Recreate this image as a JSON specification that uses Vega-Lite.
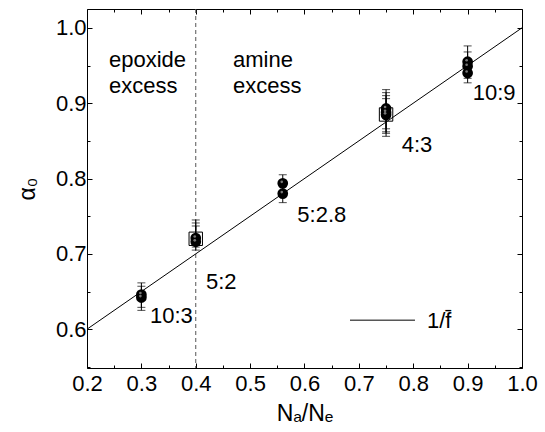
{
  "$schema": "https://vega.github.io/schema/vega-lite/v6.json",
  "width": 435,
  "height": 359,
  "autosize": {"type": "none"},
  "padding": {"left": 87, "top": 9, "right": 23, "bottom": 64},
  "background": "white",
  "config": {
    "view": {"stroke": null},
    "axis": {
      "domainColor": "black", "tickColor": "black", "labelColor": "black", "titleColor": "black",
      "labelFont": "Liberation Sans", "titleFont": "Liberation Sans",
      "labelFontSize": 22, "titleFontSize": 23, "titleFontWeight": "normal",
      "grid": false, "labelOverlap": false, "labelFlush": false
    }
  },
  "datasets": {
    "pts": [
      {"x": 0.3, "y": 0.646, "lo": 0.629, "hi": 0.6615, "kind": "circle"},
      {"x": 0.3, "y": 0.642, "lo": 0.625, "hi": 0.657, "kind": "circle"},
      {"x": 0.4, "y": 0.720, "lo": 0.712, "hi": 0.737, "kind": "square"},
      {"x": 0.4, "y": 0.721, "lo": 0.705, "hi": 0.745, "kind": "circle"},
      {"x": 0.4, "y": 0.716, "lo": 0.709, "hi": 0.741, "kind": "circle"},
      {"x": 0.56, "y": 0.7936, "lo": 0.78, "hi": 0.805, "kind": "circle"},
      {"x": 0.56, "y": 0.780, "lo": 0.768, "hi": 0.795, "kind": "circle"},
      {"x": 0.75, "y": 0.885, "lo": 0.862, "hi": 0.906, "kind": "square"},
      {"x": 0.75, "y": 0.893, "lo": 0.866, "hi": 0.918, "kind": "circle"},
      {"x": 0.75, "y": 0.888, "lo": 0.86, "hi": 0.914, "kind": "circle"},
      {"x": 0.75, "y": 0.8845, "lo": 0.856, "hi": 0.91, "kind": "circle"},
      {"x": 0.9, "y": 0.955, "lo": 0.94, "hi": 0.976, "kind": "circle"},
      {"x": 0.9, "y": 0.949, "lo": 0.933, "hi": 0.968, "kind": "circle"},
      {"x": 0.9, "y": 0.940, "lo": 0.927, "hi": 0.955, "kind": "circle"}
    ],
    "lines": [
      {"x": 0.2, "y": 0.6, "s": "fit"},
      {"x": 1.0, "y": 1.0, "s": "fit"},
      {"x": 0.6837, "y": 0.612, "s": "leg"},
      {"x": 0.8032, "y": 0.612, "s": "leg"}
    ],
    "texts": [
      {"x": 0.2405, "y": 0.948, "t": "epoxide"},
      {"x": 0.2405, "y": 0.9136, "t": "excess"},
      {"x": 0.4685, "y": 0.948, "t": "amine"},
      {"x": 0.4685, "y": 0.9136, "t": "excess"},
      {"x": 0.3159, "y": 0.6084, "t": "10:3"},
      {"x": 0.4189, "y": 0.6528, "t": "5:2"},
      {"x": 0.5868, "y": 0.7426, "t": "5:2.8"},
      {"x": 0.7788, "y": 0.835, "t": "4:3"},
      {"x": 0.9093, "y": 0.9043, "t": "10:9"},
      {"x": 0.8253, "y": 0.6013, "t": "1/f\u0304"}
    ],
    "vline": [{"x": 0.4}]
  },
  "resolve": {"axis": {"x": "independent", "y": "independent"}},
  "layer": [
    {
      "data": {"name": "vline"},
      "mark": {"type": "rule", "color": "#555555", "strokeDash": [4, 3], "strokeWidth": 1},
      "encoding": {
        "x": {"field": "x", "type": "quantitative", "scale": {"domain": [0.2, 1.0], "nice": false, "zero": false},
          "axis": {"orient": "bottom", "values": [0.2,0.25,0.3,0.35,0.4,0.45,0.5,0.55,0.6,0.65,0.7,0.75,0.8,0.85,0.9,0.95,1.0],
            "labelExpr": "abs(datum.value*10-round(datum.value*10))<0.001 ? format(datum.value,'.1f') : ''",
            "tickSize": {"condition": {"test": "abs(datum.value*10-round(datum.value*10))<0.001", "value": -5}, "value": -3},
            "labelPadding": 10, "title": "Nₐ/Nₑ", "titlePadding": 6}}
      }
    },
    {
      "data": {"name": "lines"},
      "mark": {"type": "line", "color": "black", "strokeWidth": 1},
      "encoding": {
        "x": {"field": "x", "type": "quantitative", "scale": {"domain": [0.2, 1.0], "nice": false, "zero": false},
          "axis": {"orient": "top", "values": [0.2,0.25,0.3,0.35,0.4,0.45,0.5,0.55,0.6,0.65,0.7,0.75,0.8,0.85,0.9,0.95,1.0],
            "labels": false, "title": null,
            "tickSize": {"condition": {"test": "abs(datum.value*10-round(datum.value*10))<0.001", "value": -5}, "value": -3}}},
        "y": {"field": "y", "type": "quantitative", "scale": {"domain": [0.5485, 1.025], "nice": false, "zero": false},
          "axis": {"orient": "right", "values": [0.55,0.6,0.65,0.7,0.75,0.8,0.85,0.9,0.95,1.0],
            "labels": false, "title": null,
            "tickSize": {"condition": {"test": "abs(datum.value*10-round(datum.value*10))<0.001", "value": -5}, "value": -3}}},
        "detail": {"field": "s"}
      }
    },
    {
      "data": {"name": "pts"},
      "mark": {"type": "rule", "color": "black", "strokeWidth": 1},
      "encoding": {
        "x": {"field": "x", "type": "quantitative", "axis": null},
        "y": {"field": "lo", "type": "quantitative", "scale": {"domain": [0.5485, 1.025], "nice": false, "zero": false},
          "axis": {"orient": "left", "values": [0.55,0.6,0.65,0.7,0.75,0.8,0.85,0.9,0.95,1.0],
            "labelExpr": "abs(datum.value*10-round(datum.value*10))<0.001 ? format(datum.value,'.1f') : ''",
            "tickSize": {"condition": {"test": "abs(datum.value*10-round(datum.value*10))<0.001", "value": -5}, "value": -3},
            "labelPadding": 6, "title": "α₀", "titlePadding": 16}},
        "y2": {"field": "hi"}
      }
    },
    {
      "data": {"name": "pts"},
      "mark": {"type": "tick", "orient": "horizontal", "size": 8, "thickness": 1, "color": "black"},
      "encoding": {
        "x": {"field": "x", "type": "quantitative", "axis": null},
        "y": {"field": "hi", "type": "quantitative", "axis": null}
      }
    },
    {
      "data": {"name": "pts"},
      "mark": {"type": "tick", "orient": "horizontal", "size": 8, "thickness": 1, "color": "black"},
      "encoding": {
        "x": {"field": "x", "type": "quantitative", "axis": null},
        "y": {"field": "lo", "type": "quantitative", "axis": null}
      }
    },
    {
      "data": {"name": "pts"},
      "transform": [{"filter": "datum.kind == 'square'"}],
      "mark": {"type": "point", "shape": "square", "filled": false, "color": "black", "size": 180, "strokeWidth": 1, "opacity": 1},
      "encoding": {
        "x": {"field": "x", "type": "quantitative", "axis": null},
        "y": {"field": "y", "type": "quantitative", "axis": null}
      }
    },
    {
      "data": {"name": "pts"},
      "transform": [{"filter": "datum.kind == 'circle'"}],
      "mark": {"type": "point", "shape": "circle", "filled": true, "color": "black", "size": 115, "opacity": 1},
      "encoding": {
        "x": {"field": "x", "type": "quantitative", "axis": null},
        "y": {"field": "y", "type": "quantitative", "axis": null}
      }
    },
    {
      "data": {"name": "pts"},
      "transform": [{"filter": "datum.kind == 'circle'"}],
      "mark": {"type": "point", "shape": "circle", "filled": true, "color": "#777777", "size": 7, "opacity": 1, "xOffset": -1, "yOffset": -1.5},
      "encoding": {
        "x": {"field": "x", "type": "quantitative", "axis": null},
        "y": {"field": "y", "type": "quantitative", "axis": null}
      }
    },
    {
      "data": {"name": "texts"},
      "mark": {"type": "text", "align": "left", "baseline": "alphabetic", "font": "Liberation Sans", "fontSize": 22, "color": "black"},
      "encoding": {
        "x": {"field": "x", "type": "quantitative", "axis": null},
        "y": {"field": "y", "type": "quantitative", "axis": null},
        "text": {"field": "t"}
      }
    }
  ]
}
